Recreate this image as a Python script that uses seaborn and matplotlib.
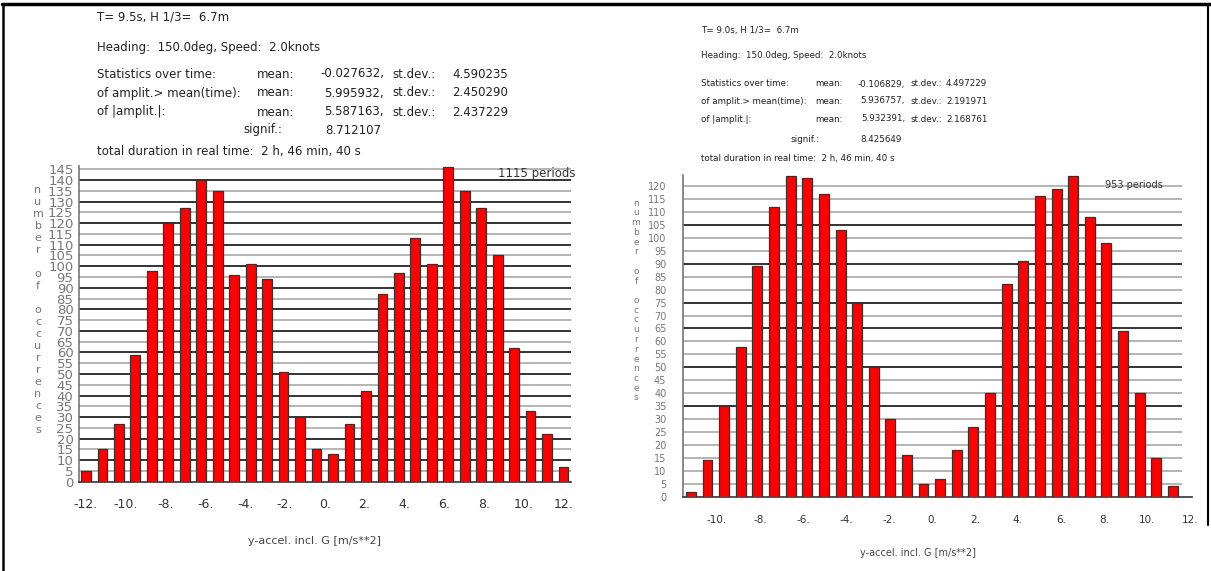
import numpy as np
import pandas as pd
import matplotlib
matplotlib.use("Agg")
import matplotlib.pyplot as plt
from matplotlib.lines import Line2D
import seaborn as sns

# ---------------- data ----------------
left_centers = [-12.00, -11.17, -10.34, -9.52, -8.69, -7.86, -7.03, -6.21, -5.38, -4.55,
                -3.72, -2.90, -2.07, -1.24, -0.41, 0.41, 1.24, 2.07, 2.90, 3.72,
                4.55, 5.38, 6.21, 7.03, 7.86, 8.69, 9.52, 10.34, 11.17, 12.00]
left_counts = [5, 15, 27, 59, 98, 120, 127, 140, 135, 96,
               101, 94, 51, 30, 15, 13, 27, 42, 87, 97,
               113, 101, 146, 135, 127, 105, 62, 33, 22, 7]

right_centers = [-11.21, -10.44, -9.66, -8.89, -8.12, -7.34, -6.57, -5.80, -5.03, -4.25,
                 -3.48, -2.71, -1.93, -1.16, -0.39, 0.39, 1.16, 1.93, 2.71, 3.48,
                 4.25, 5.03, 5.80, 6.57, 7.34, 8.12, 8.89, 9.66, 10.44, 11.21]
right_counts = [2, 14, 35, 58, 89, 112, 124, 123, 117, 103,
                75, 50, 30, 16, 5, 7, 18, 27, 40, 82,
                91, 116, 119, 124, 108, 98, 64, 40, 15, 4]

left_xticks = [-12, -10, -8, -6, -4, -2, 0, 2, 4, 6, 8, 10, 12]
left_xticklabels = ["-12.", "-10.", "-8.", "-6.", "-4.", "-2.", "0.", "2.", "4.", "6.", "8.", "10.", "12."]
right_xticks = [-10, -8, -6, -4, -2, 0, 2, 4, 6, 8, 10, 12]
right_xticklabels = ["-10.", "-8.", "-6.", "-4.", "-2.", "0.", "2.", "4.", "6.", "8.", "10.", "12."]
left_yticks = list(range(0, 150, 5))
right_yticks = list(range(0, 125, 5))
left_dark = list(range(10, 150, 10))
right_dark = [35, 50, 65, 75, 90, 105]

left_periods = "1115 periods"
right_periods = "953 periods"
xlabel = "y-accel. incl. G [m/s**2]"
ylabel = "number of occurrences"

left_title = ["T= 9.5s, H 1/3=  6.7m", "Heading:  150.0deg, Speed:  2.0knots"]
right_title = ["T= 9.0s, H 1/3=  6.7m", "Heading:  150.0deg, Speed:  2.0knots"]
stat_names = ["Statistics over time:", "of amplit.> mean(time):", "of |amplit.|:"]
left_means = ["-0.027632,", "5.995932,", "5.587163,"]
left_stdevs = ["4.590235", "2.450290", "2.437229"]
left_signif = "8.712107"
right_means = ["-0.106829,", "5.936757,", "5.932391,"]
right_stdevs = ["4.497229", "2.191971", "2.168761"]
right_signif = "8.425649"
duration = "total duration in real time:  2 h, 46 min, 40 s"

# ---------------- style ----------------
sns.set_theme(style="white")
plt.rcParams["font.family"] = ["DejaVu Sans"]

W, H = 1211, 571
fig = plt.figure(figsize=(W / 100, H / 100), dpi=100)
fig.patch.set_facecolor("white")


def fx(px):
    return px / W


def fy(py):
    return 1 - py / H


def header(x0, ys, xs, fs, title, means, stdevs, signif):
    col = "#222222"
    fig.text(fx(x0), fy(ys[0]), title[0], fontsize=fs, color=col, va="center")
    fig.text(fx(x0), fy(ys[1]), title[1], fontsize=fs, color=col, va="center")
    for i in range(3):
        y = fy(ys[2 + i])
        fig.text(fx(x0), y, stat_names[i], fontsize=fs, color=col, va="center")
        fig.text(fx(xs[0]), y, "mean:", fontsize=fs, color=col, va="center")
        fig.text(fx(xs[1]), y, means[i], fontsize=fs, color=col, va="center", ha="right")
        fig.text(fx(xs[2]), y, "st.dev.:", fontsize=fs, color=col, va="center")
        fig.text(fx(xs[3]), y, stdevs[i], fontsize=fs, color=col, va="center")
    fig.text(fx(xs[4]), fy(ys[5]), "signif.:", fontsize=fs, color=col, va="center")
    fig.text(fx(xs[1] - 3), fy(ys[5]), signif, fontsize=fs, color=col, va="center", ha="right")
    fig.text(fx(x0), fy(ys[6]), duration, fontsize=fs, color=col, va="center")


def panel(rect, centers, counts, xlim, ylim, yticks, dark, xticks, xticklabels,
          grid_end, ytick_fs, xtick_fs, ytick_pad, xtick_pad):
    ax = fig.add_axes(rect)
    ax.set_facecolor("white")
    sns.barplot(x=centers, y=counts, native_scale=True, color="#ff0000", saturation=1,
                width=0.6, edgecolor="#333333", linewidth=0.9, errorbar=None, ax=ax, zorder=3)
    ax.set_xlim(*xlim)
    ax.set_ylim(*ylim)
    for y in yticks[1:]:
        ax.hlines(y, xlim[0], grid_end, color="#111111" if y in dark else "#a8a8a8",
                  lw=1.2, zorder=1)
    ax.set_yticks(yticks)
    ax.set_yticklabels([str(v) for v in yticks], fontsize=ytick_fs, color="#777777")
    ax.set_xticks(xticks)
    ax.set_xticklabels(xticklabels, fontsize=xtick_fs, color="#333333")
    ax.tick_params(axis="y", length=0, pad=ytick_pad)
    ax.tick_params(axis="x", direction="inout", length=5, width=1, color="#333333", pad=xtick_pad)
    for s in ["top", "right"]:
        ax.spines[s].set_visible(False)
    ax.spines["left"].set_color("#777777")
    ax.spines["left"].set_linewidth(1.2)
    ax.spines["bottom"].set_color("#444444")
    ax.spines["bottom"].set_linewidth(1.3)
    ax.set_xlabel("")
    ax.set_ylabel("")
    return ax


# left panel
axL = panel([fx(79), fy(481.7), fx(570.5) - fx(79), fy(166) - fy(481.7)],
            left_centers, left_counts, (-12.35, 12.35), (0, 146.5), left_yticks, left_dark,
            left_xticks, left_xticklabels, 12.35, 9.5, 9, 4, 9)
axL.text(12.6, 143, left_periods, fontsize=8.5, color="#333333", ha="right", va="center")

# right panel
axR = panel([fx(683), fy(496.7), fx(1192) - fx(683), fy(175) - fy(496.7)],
            right_centers, right_counts, (-11.58, 12.1), (0, 124.3), right_yticks, right_dark,
            right_xticks, right_xticklabels, 11.63, 7, 7.5, 12, 11)
axR.text(10.75, 120.5, right_periods, fontsize=7, color="#333333", ha="right", va="center")

# headers
header(97, [17, 47, 74, 93, 112, 130, 151], [257, 384, 392, 452, 243], 8.5,
       left_title, left_means, left_stdevs, left_signif)
header(701, [30, 56, 84, 101, 119, 139, 158], [815, 905, 910, 946, 790], 6.3,
       right_title, right_means, right_stdevs, right_signif)

# axis titles
fig.text(fx(315), fy(541), xlabel, fontsize=8, color="#444444", ha="center", va="center")
fig.text(fx(918), fy(553), xlabel, fontsize=7, color="#444444", ha="center", va="center")
for i, ch in enumerate(ylabel):
    fig.text(fx(38), fy(190 + i * 12), ch, fontsize=8, color="#777777", ha="center", va="center")
    fig.text(fx(636), fy(203 + i * 9.75), ch, fontsize=6.5, color="#777777", ha="center", va="center")

# frame lines
fig.add_artist(Line2D([fx(2), fx(1211)], [fy(4), fy(4)], color="black", lw=2.5))
fig.add_artist(Line2D([fx(3), fx(3)], [fy(4), fy(571)], color="black", lw=1.8))
fig.add_artist(Line2D([fx(1208), fx(1208)], [fy(4), fy(525)], color="black", lw=1.5))

fig.savefig("out.png", dpi=100, facecolor="white")
